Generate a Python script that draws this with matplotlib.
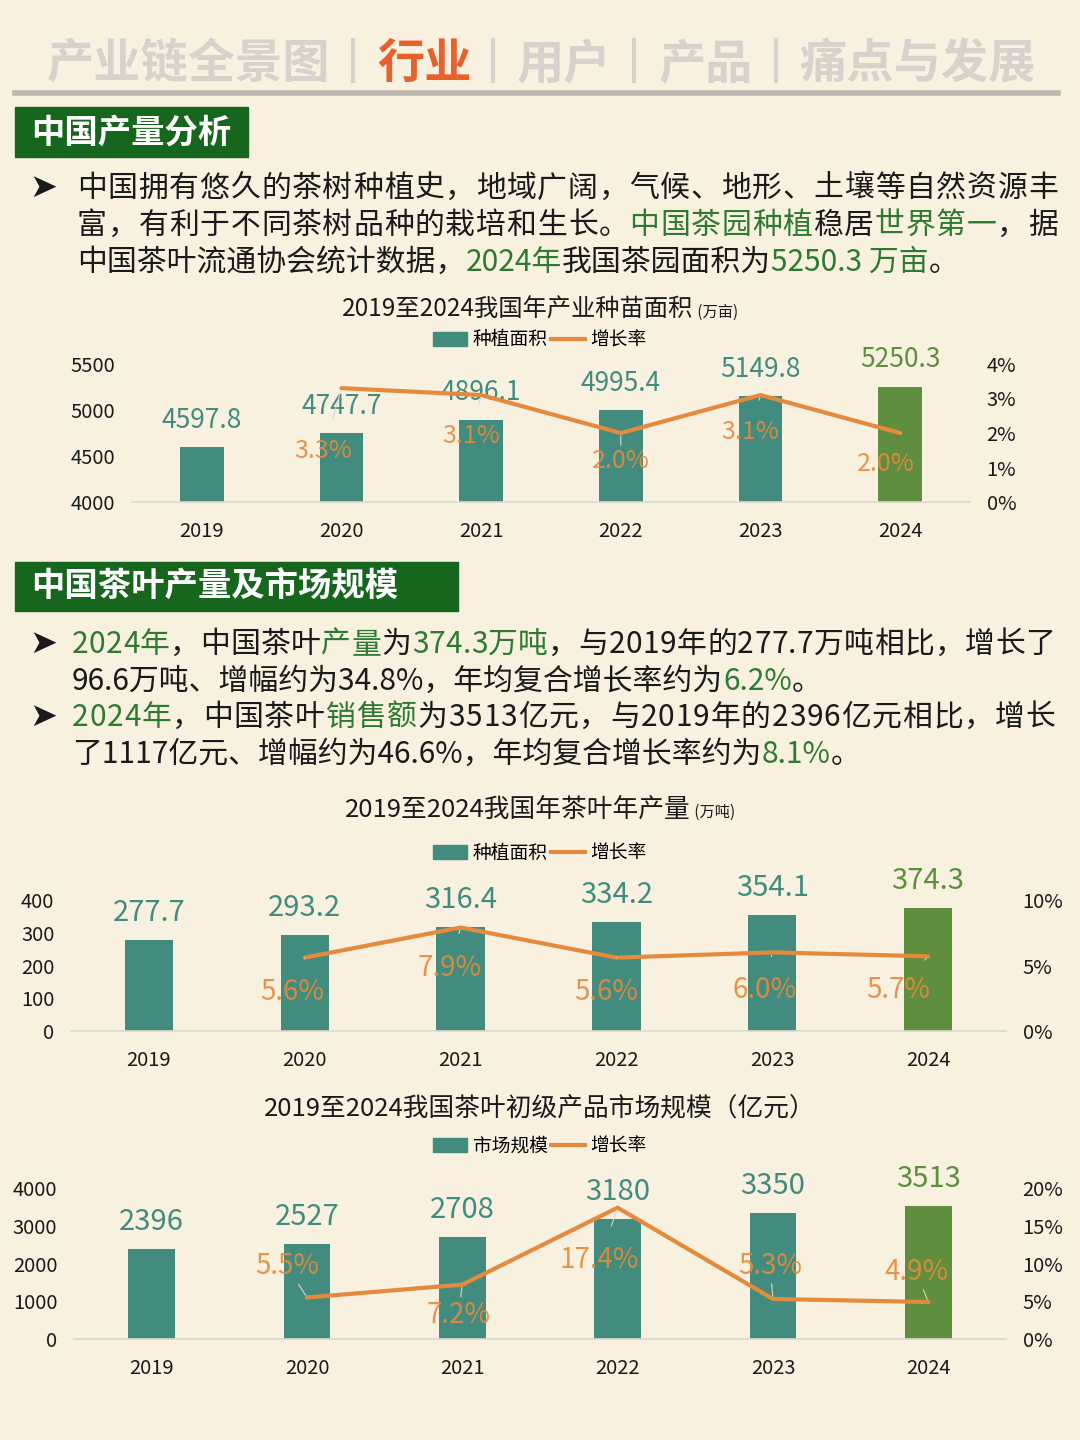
import numpy as np
import matplotlib
matplotlib.use('Agg')
import matplotlib.pyplot as plt
from matplotlib.patches import Rectangle, Patch
from matplotlib.lines import Line2D

plt.rcParams['font.family'] = ['Noto Sans CJK SC', 'DejaVu Sans']

W, H = 1080, 1440
BG = '#F8F1E0'
TEAL = '#418C7E'
OLIVE = '#5E8E3E'
ORANGE = '#E58A3C'
DGREEN = '#16661E'
TGREEN = '#2E7A34'
BLACK = '#1A1A1A'

years = ['2019', '2020', '2021', '2022', '2023', '2024']

# chart 1: tea garden area (万亩)
area = [4597.8, 4747.7, 4896.1, 4995.4, 5149.8, 5250.3]
area_growth = [None, 3.3, 3.1, 2.0, 3.1, 2.0]

# chart 2: tea output (万吨)
output = [277.7, 293.2, 316.4, 334.2, 354.1, 374.3]
output_growth = [None, 5.6, 7.9, 5.6, 6.0, 5.7]

# chart 3: primary product market size (亿元)
market = [2396, 2527, 2708, 3180, 3350, 3513]
market_growth = [None, 5.5, 7.2, 17.4, 5.3, 4.9]

tabs = ['产业链全景图', '行业', '用户', '产品', '痛点与发展']

fig = plt.figure(figsize=(W / 100, H / 100), dpi=100, facecolor=BG)
renderer = fig.canvas.get_renderer()


def fx(x):
    return x / W


def fy(y):
    return 1 - y / H


def runs(x, y, parts, size, ha='left', weight='normal', justify=None):
    """Draw coloured text pieces one after another, x/y in pixels.
    justify: right edge in pixels -> spread characters to fill the line."""
    parts = [(p[0], p[1], p[2] if len(p) > 2 else size) for p in parts]
    if justify is not None:
        parts = [(ch, c, sz) for s, c, sz in parts for ch in s]
    texts, widths = [], []
    for s, c, sz in parts:
        t = fig.text(fx(x), fy(y), s, color=c, fontsize=sz, va='baseline',
                     ha='left', fontweight=weight)
        texts.append(t)
        widths.append(t.get_window_extent(renderer).width)
    gap = 0
    if justify is not None and len(texts) > 1:
        gap = (justify - x - sum(widths)) / (len(texts) - 1)
    total = sum(widths) + gap * (len(texts) - 1)
    cur = x - (total / 2 if ha == 'center' else 0)
    for t, w in zip(texts, widths):
        t.set_position((fx(cur), fy(y)))
        cur += w + gap
    return texts


# ---- header tabs
tab_x = [47, 377, 517, 659, 799]
for i, (t, x) in enumerate(zip(tabs, tab_x)):
    col = '#E8602C' if t == '行业' else '#D9D2CC'
    fig.text(fx(x), fy(78), t, fontsize=34, color=col, fontweight='bold',
             va='baseline')
for x in [353, 493, 634, 776]:
    fig.add_artist(Line2D([fx(x), fx(x)], [fy(40), fy(81)], color='#D9D2CC', lw=3))
fig.add_artist(Line2D([fx(15), fx(1058)], [fy(93), fy(93)], color='#BDB7B2', lw=4))


def section(x0, y0, x1, y1, text):
    fig.add_artist(Rectangle((fx(x0), fy(y1)), fx(x1 - x0), (y1 - y0) / H,
                             color=DGREEN, transform=fig.transFigure))
    fig.text(fx(x0 + 16), fy((y0 + y1) / 2 + 1), text, color='white', fontsize=24,
             fontweight='bold', va='center')


def bullet(y):
    fig.text(fx(29), fy(y), '➤', color=BLACK, fontsize=24, va='baseline',
             family='DejaVu Sans')


section(15, 107, 248, 157, '中国产量分析')
bullet(197)
runs(77, 197, [('中国拥有悠久的茶树种植史，地域广阔，气候、地形、土壤等自然资源丰', BLACK)], 21.5,
     justify=1058)
runs(77, 234, [('富，有利于不同茶树品种的栽培和生长。', BLACK), ('中国茶园种植', TGREEN),
               ('稳居', BLACK), ('世界第一', TGREEN), ('，据', BLACK)], 21.5, justify=1058)
runs(77, 271, [('中国茶叶流通协会统计数据，', BLACK), ('2024年', TGREEN),
               ('我国茶园面积为', BLACK), ('5250.3 万亩', TGREEN), ('。', BLACK)], 21.5)

section(15, 562, 458, 611, '中国茶叶产量及市场规模')
bullet(653)
runs(72, 653, [('2024年', TGREEN), ('，中国茶叶', BLACK), ('产量', TGREEN), ('为', BLACK),
               ('374.3万吨', TGREEN), ('，与2019年的277.7万吨相比，增长了', BLACK)], 21.5,
     justify=1055)
runs(72, 690, [('96.6万吨、增幅约为34.8%，年均复合增长率约为', BLACK), ('6.2%', TGREEN),
               ('。', BLACK)], 21.5)
bullet(726)
runs(72, 726, [('2024年', TGREEN), ('，中国茶叶', BLACK), ('销售额', TGREEN),
               ('为3513亿元，与2019年的2396亿元相比，增长', BLACK)], 21.5, justify=1055)
runs(72, 763, [('了1117亿元、增幅约为46.6%，年均复合增长率约为', BLACK), ('8.1%', TGREEN),
               ('。', BLACK)], 21.5)


def chart(x0, x1, ytop, ybot, vals, growth, ylim, yticks, rlim, rticks,
          bar_w, val_size, offsets, title_parts, title_y, legend_name, legend_y,
          tick_size=14.5):
    ax = fig.add_axes([fx(x0), fy(ybot), fx(x1 - x0), (ybot - ytop) / H])
    ax.set_facecolor('none')
    x = np.arange(len(years))
    cols = [TEAL] * (len(years) - 1) + [OLIVE]
    ax.bar(x, vals, width=bar_w, color=cols, zorder=2)
    ax.set_xlim(-0.5, len(years) - 0.5)
    ax.set_ylim(ylim)
    ax.set_yticks(yticks)
    ax.set_yticklabels([str(v) for v in yticks], fontsize=tick_size, color=BLACK)
    ax.set_xticks(x)
    ax.set_xticklabels(years, fontsize=tick_size, color=BLACK)
    ax.tick_params(length=0)
    ax.tick_params(axis='x', pad=14)
    ax.tick_params(axis='y', pad=12)
    for s in ['top', 'right', 'left']:
        ax.spines[s].set_visible(False)
    ax.spines['bottom'].set_color('#DDD8CF')
    ax.spines['bottom'].set_linewidth(1.2)
    for xi, v, c in zip(x, vals, cols):
        ax.annotate(f'{v:g}' if isinstance(v, int) else f'{v:.1f}', (xi, v),
                    xytext=(0, 27 * 0.72), textcoords='offset points',
                    ha='center', va='center', fontsize=val_size, color=c)

    ax2 = ax.twinx()
    ax2.set_ylim(rlim)
    ax2.set_yticks(rticks)
    ax2.set_yticklabels([f'{v}%' for v in rticks], fontsize=tick_size, color=BLACK)
    ax2.tick_params(length=0, pad=12)
    for s in ax2.spines.values():
        s.set_visible(False)
    gx = [xi for xi, g in zip(x, growth) if g is not None]
    gy = [g for g in growth if g is not None]
    ax2.plot(gx, gy, color=ORANGE, lw=3, zorder=3, solid_capstyle='round')
    for xi, g, (dx, dy) in zip(gx, gy, offsets):
        ax2.annotate(f'{g:.1f}%', (xi, g), xytext=(dx * 0.72, -dy * 0.72),
                     textcoords='offset points', ha='center', va='center',
                     fontsize=val_size - 1, color=ORANGE, alpha=0.9, zorder=4,
                     arrowprops=dict(arrowstyle='-', color='#D8D4CC', lw=0.8,
                                     shrinkA=12, shrinkB=2))

    runs(W / 2, title_y, title_parts, 17.5, ha='center')
    handles = [Patch(color=TEAL, label=legend_name),
               Line2D([], [], color=ORANGE, lw=3, label='增长率')]
    fig.legend(handles=handles, loc='center', bbox_to_anchor=(0.5, fy(legend_y)),
               ncol=2, frameon=False, fontsize=13.5, handlelength=1.8, handleheight=0.8,
               columnspacing=0.2, handletextpad=0.3)
    return ax, ax2


chart(132, 970, 364, 502, area, area_growth, (4000, 5500), [4000, 4500, 5000, 5500],
      (0, 4), [0, 1, 2, 3, 4], 0.315, 19,
      [(-18, 63), (-10, 41), (0, 28), (-10, 37), (-14, 31)],
      [('2019至2024我国年产业种苗面积', BLACK), (' (万亩)', BLACK, 11)], 317, '种植面积', 340)

chart(71, 1006, 900, 1031, output, output_growth, (0, 400), [0, 100, 200, 300, 400],
      (0, 10), [0, 5, 10], 0.31, 21,
      [(-13, 34), (-11, 40), (-10, 34), (-8, 38), (-30, 34)],
      [('2019至2024我国年茶叶年产量', BLACK, 18.5), (' (万吨)', BLACK, 11)], 817, '种植面积', 853)

chart(74, 1006, 1188, 1339, market, market_growth, (0, 4000), [0, 1000, 2000, 3000, 4000],
      (0, 20), [0, 5, 10, 15, 20], 0.30, 21,
      [(-20, -31), (-4, 30), (-18, 52), (-3, -33), (-12, -30)],
      [('2019至2024我国茶叶初级产品市场规模（亿元）', BLACK, 18.5)], 1116, '市场规模', 1146)

fig.savefig('out.png', dpi=100, facecolor=BG)
